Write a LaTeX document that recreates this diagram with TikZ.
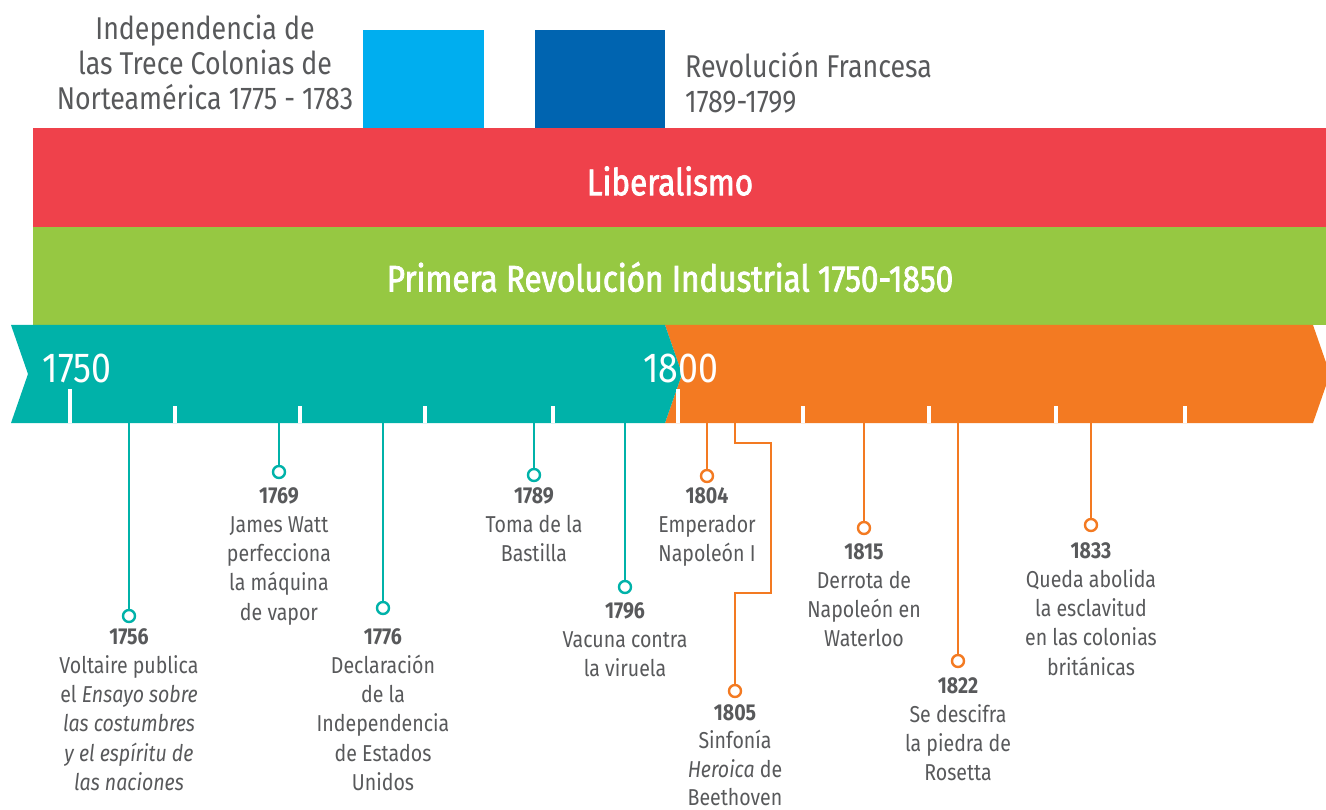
\documentclass[tikz,border=0pt]{standalone}
\usepackage{fontspec}
\setmainfont{Fira Sans}[FakeStretch=0.85]
\newfontfamily\bandfont{Fira Sans}[FakeStretch=0.85, FakeBold=2]
\definecolor{txtgray}{HTML}{58595B}
\definecolor{lblue}{HTML}{00AEEF}
\definecolor{dblue}{HTML}{0064B0}
\definecolor{cred}{HTML}{EF414B}
\definecolor{cgreen}{HTML}{96C842}
\definecolor{cteal}{HTML}{00B2A9}
\definecolor{corange}{HTML}{F37A22}
\tikzset{
  desc/.style={align=center, inner sep=0pt, anchor=north, text=txtgray, font=\fontsize{23}{29.3}\selectfont},
  toptext/.style={inner sep=0pt, text=txtgray, font=\fontsize{31.5}{35}\selectfont},
  bandtext/.style={inner sep=0pt, text=white, font=\bandfont\fontsize{37}{40}\selectfont},
  yeartext/.style={inner sep=0pt, text=white, font=\fontsize{42}{44}\selectfont},
  dot/.style={circle, draw=#1, fill=white, minimum size=12pt, inner sep=0pt, line width=2.4pt},
  conn/.style={draw=#1, line width=2.4pt},
  tickmaj/.style={draw=white, line width=3.5pt},
}
\begin{document}
\begin{tikzpicture}[x=1pt,y=-1pt]
\useasboundingbox (0,0) rectangle (1326,810);
% top boxes
\fill[lblue] (363,30) rectangle (484,128);
\fill[dblue] (535,30) rectangle (665,128);
\node[toptext, align=center, anchor=north] (indep) at (205,15) {Independencia de\\las Trece Colonias de\\Norteamérica 1775 - 1783};
\node[toptext, align=left, anchor=north west] (revfr) at (685,52) {Revolución Francesa\\1789-1799};
% bands
\fill[cred] (33,128) rectangle (1326,227);
\fill[cgreen] (33,227) rectangle (1326,325);
\node[bandtext] (lib) at (670,181) {Liberalismo};
\node[bandtext] (ind) at (670,277) {Primera Revolución Industrial 1750-1850};
% timeline
\fill[corange] (665,325) -- (1313,325) -- (1330,374) -- (1313,423) -- (665,423) -- (682,374) -- cycle;
\fill[cteal] (11,325) -- (665,325) -- (682,374) -- (665,423) -- (11,423) -- (28,374) -- cycle;
\node[yeartext] (y1750) at (77,368) {1750};
\node[yeartext] (y1800) at (681,368) {1800};
\draw[tickmaj] (70,389) -- (70,423);
\draw[tickmaj] (678,389) -- (678,423);
\foreach \x in {175,300,425,553,803,929,1056,1185}
  \draw[tickmaj] (\x,406) -- (\x,423);
% events
\foreach \x/\cy/\yt/\col/\nm/\txt in {
  129/616/628/cteal/e1756/{\textbf{1756}\\Voltaire publica\\el \textit{Ensayo sobre}\\\textit{las costumbres}\\\textit{y el espíritu de}\\\textit{las naciones}},
  279/472/487/cteal/e1769/{\textbf{1769}\\James Watt\\perfecciona\\la máquina\\de vapor},
  383/608/628/cteal/e1776/{\textbf{1776}\\Declaración\\de la\\Independencia\\de Estados\\Unidos},
  534/475/487/cteal/e1789/{\textbf{1789}\\Toma de la\\Bastilla},
  625/587/602/cteal/e1796/{\textbf{1796}\\Vacuna contra\\la viruela},
  707/476/487/corange/e1804/{\textbf{1804}\\Emperador\\Napoleón I},
  864/528/543/corange/e1815/{\textbf{1815}\\Derrota de\\Napoleón en\\Waterloo},
  958/661/677/corange/e1822/{\textbf{1822}\\Se descifra\\la piedra de\\Rosetta},
  1091/525/542/corange/e1833/{\textbf{1833}\\Queda abolida\\la esclavitud\\en las colonias\\británicas}}
{
  \coordinate (t\nm) at (\x,423);
  \node[dot=\col] (c\nm) at (\x,\cy) {};
  \draw[conn=\col] (t\nm) -- (c\nm);
  \node[desc] (d\nm) at (\x,\yt) {\txt};
}
% 1805 with bent connector
\coordinate (te1805) at (735,423);
\node[dot=corange] (ce1805) at (735,691) {};
\draw[conn=corange, line join=miter] (te1805) -- (735,443) -- (771,443) -- (771,593) -- (735,593) -- (ce1805);
\node[desc, font=\fontsize{23}{28.5}\selectfont] (de1805) at (735,704) {\textbf{1805}\\Sinfonía\\\textit{Heroica} de\\Beethoven};
\end{tikzpicture}
\end{document}
